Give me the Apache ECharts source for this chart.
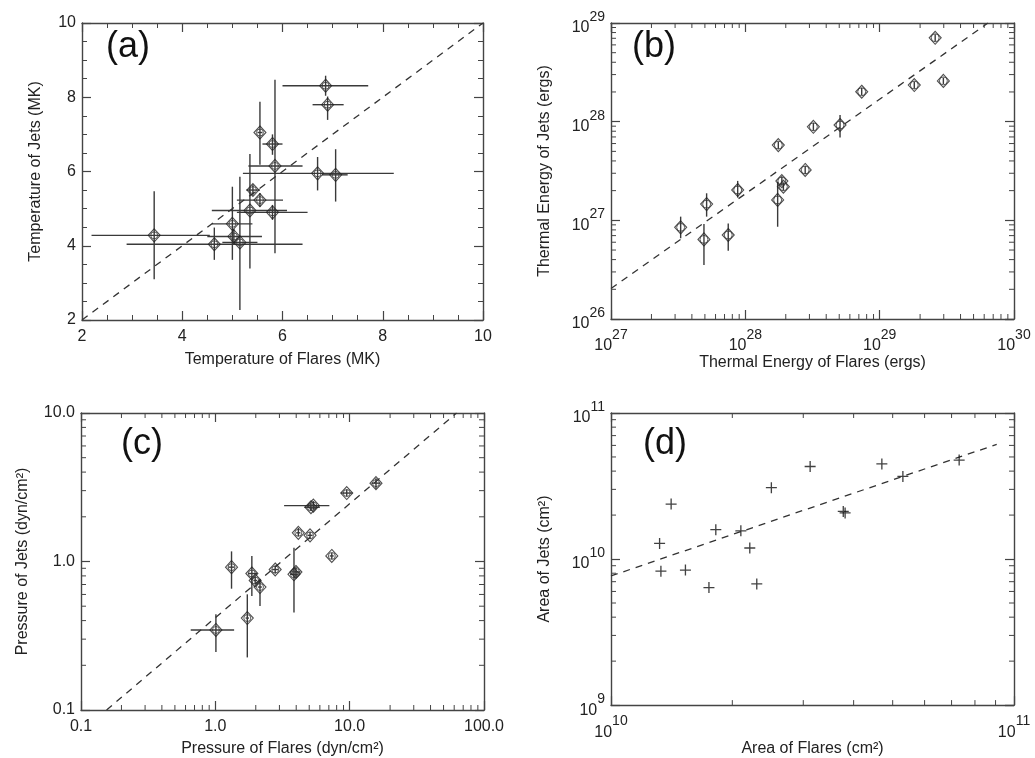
<!DOCTYPE html>
<html>
<head>
<meta charset="utf-8">
<script src="https://cdn.jsdelivr.net/npm/echarts@6/dist/echarts.min.js"></script>
<style>html,body{margin:0;padding:0;background:#fff}#c{width:1035px;height:758px}</style>
</head>
<body>
<div id="c"></div>
<script>
// ---------- Panel (a): temperatures (MK) ----------
const aFlareT   = [3.44, 4.64, 5.15, 5.03, 5.00, 5.35, 5.41, 5.55, 5.80, 5.85, 5.80, 5.55, 6.86, 6.90, 6.70, 7.06];
const aJetT     = [4.28, 4.04, 4.09, 4.25, 4.59, 4.95, 5.50, 5.23, 4.90, 6.15, 6.74, 7.05, 8.31, 7.80, 5.95, 5.91];
const aFlareLo  = [2.19, 2.89, 4.80, 4.50, 4.59, 4.59, 5.28, 5.09, 5.09, 5.32, 5.60, 5.50, 6.00, 6.60, 5.21, 6.79];
const aFlareHi  = [4.55, 6.40, 5.50, 5.59, 5.40, 6.09, 5.55, 6.01, 6.50, 6.40, 6.00, 5.60, 7.71, 7.22, 8.22, 7.30];
const aJetLo    = [3.10, 3.62, 2.27, 4.05, 3.62, 3.39, 5.35, 5.05, 4.70, 3.80, 6.45, 6.18, 8.04, 7.39, 5.49, 5.19];
const aJetHi    = [5.47, 4.49, 5.86, 4.45, 5.59, 6.47, 5.65, 5.42, 5.10, 8.47, 7.00, 7.88, 8.58, 8.02, 6.39, 6.60];
const aFitX = [2, 10];
const aFitY = [2, 10];

// ---------- Panel (b): thermal energy (ergs) ----------
const bFlareE = [3.30e27, 4.92e27, 5.15e27, 7.46e27, 8.77e27, 1.74e28, 1.76e28, 1.87e28, 1.92e28, 2.79e28, 3.21e28, 5.07e28, 7.35e28, 1.81e29, 2.59e29, 2.98e29];
const bJetE   = [8.49e26, 6.41e26, 1.46e27, 7.10e26, 2.03e27, 1.61e27, 5.79e27, 2.50e27, 2.19e27, 3.24e27, 8.87e27, 9.25e27, 2.01e28, 2.35e28, 7.08e28, 2.59e28];
const bJetLo  = [6.58e26, 3.52e26, 1.09e27, 4.92e26, 1.70e27, 8.61e26, 5.30e27, 2.25e27, 2.00e27, 2.95e27, 8.10e27, 6.93e27, 1.85e28, 2.15e28, 6.50e28, 2.40e28];
const bJetHi  = [1.09e27, 9.18e26, 1.88e27, 9.31e26, 2.51e27, 2.46e27, 6.30e27, 2.80e27, 2.40e27, 3.55e27, 9.70e27, 1.17e28, 2.20e28, 2.55e28, 7.70e28, 2.80e28];
const bFitX = [1e27, 6.4e29];
const bFitY = [2.04e26, 1e29];

// ---------- Panel (c): pressure (dyn/cm^2) ----------
const cFlareP  = [1.01, 1.32, 1.73, 1.87, 1.98, 2.15, 2.79, 3.85, 3.98, 4.15, 5.07, 5.15, 5.37, 7.36, 9.51, 15.7];
const cJetP    = [0.346, 0.916, 0.416, 0.830, 0.745, 0.673, 0.883, 0.82, 0.85, 1.56, 1.50, 2.32, 2.38, 1.09, 2.89, 3.37];
const cFlareLo = [0.656, 1.25, 1.68, 1.75, 1.92, 2.08, 2.65, 3.60, 3.80, 4.00, 4.85, 4.60, 3.25, 7.10, 8.60, 14.5];
const cFlareHi = [1.38, 1.39, 1.78, 2.05, 2.05, 2.22, 2.95, 4.10, 4.30, 4.30, 5.30, 6.00, 7.06, 7.60, 10.5, 17.0];
const cJetLo   = [0.246, 0.656, 0.226, 0.586, 0.70, 0.501, 0.83, 0.453, 0.78, 1.48, 1.42, 2.20, 2.25, 1.04, 2.75, 3.09];
const cJetHi   = [0.441, 1.17, 0.601, 1.09, 0.79, 0.757, 0.94, 1.24, 0.92, 1.68, 1.58, 2.45, 2.55, 1.14, 3.05, 3.63];
const cFitX = [0.155, 62.5];
const cFitY = [0.1, 10];

// ---------- Panel (d): area (cm^2) ----------
const dFlareA = [1.32e10, 1.33e10, 1.41e10, 1.53e10, 1.75e10, 1.82e10, 2.10e10, 2.21e10, 2.30e10, 2.50e10, 3.12e10, 3.77e10, 3.81e10, 4.70e10, 5.30e10, 7.31e10];
const dJetA   = [1.28e10, 8.26e9, 2.38e10, 8.40e9, 6.38e9, 1.59e10, 1.56e10, 1.19e10, 6.76e9, 3.08e10, 4.30e10, 2.12e10, 2.07e10, 4.48e10, 3.68e10, 4.76e10];
const dFitX = [1e10, 9.06e10];
const dFitY = [7.66e9, 6.1e10];

// ---------- Axis names / panel labels ----------
const panelLabels = ['(a)', '(b)', '(c)', '(d)'];
const xNames = ['Temperature of Flares (MK)', 'Thermal Energy of Flares (ergs)', 'Pressure of Flares (dyn/cm²)', 'Area of Flares (cm²)'];
const yNames = ['Temperature of Jets (MK)', 'Thermal Energy of Jets (ergs)', 'Pressure of Jets (dyn/cm²)', 'Area of Jets (cm²)'];

const FONT = '"Liberation Sans", Arial, Helvetica, sans-serif';
const AX = '#444';
const INK = '#222';

const grids = [
  {left: 82, top: 23, width: 401, height: 297},
  {left: 611, top: 23, width: 403, height: 296},
  {left: 81, top: 413, width: 403, height: 298},
  {left: 611, top: 413, width: 403, height: 298}
];
const ranges = [
  {x: [2, 10], y: [2, 10]},
  {x: [1e27, 1e30], y: [1e26, 1e29]},
  {x: [0.1, 100], y: [0.1, 10]},
  {x: [1e10, 1e11], y: [1e9, 1e11]}
];

const supRich = {
  b: {fontSize: 16, fontFamily: FONT, color: INK, lineHeight: 26, verticalAlign: 'bottom'},
  s: {fontSize: 14, fontFamily: FONT, color: INK, lineHeight: 26, verticalAlign: 'top'}
};
const powFmt = v => '{b|10}{s|' + Math.round(Math.log10(v)) + '}';
const decFmt = v => (+v).toFixed(1);

function axisBase(gi, type, rng, pos) {
  const o = {
    type: type, gridIndex: gi, min: rng[0], max: rng[1], position: pos,
    axisLine: {show: true, onZero: false, lineStyle: {color: AX, width: 1.4}},
    axisTick: {show: true, inside: true, length: 9, lineStyle: {color: AX, width: 1.2}},
    splitLine: {show: false},
    axisLabel: {show: false}
  };
  if (type === 'log') o.logBase = 10;
  if (type === 'value') {
    o.interval = 2;
    o.minorTick = {show: true, splitNumber: 4, length: 5, lineStyle: {color: AX, width: 1}};
  }
  return o;
}

const xAxes = [], yAxes = [];
const axisTypes = ['value', 'log', 'log', 'log'];
const labFmts = [null, powFmt, decFmt, powFmt];
const yNameGaps = [38, 58, 50, 58];
const xNameGaps = [32, 31, 31, 31];
for (let g = 0; g < 4; g++) {
  const t = axisTypes[g];
  const xb = axisBase(g, t, ranges[g].x, 'bottom');
  xb.axisLabel = {show: true, margin: 9, fontSize: 16, fontFamily: FONT, color: INK};
  if (labFmts[g]) xb.axisLabel.formatter = labFmts[g];
  if (labFmts[g] === powFmt) xb.axisLabel.rich = supRich;
  xb.name = xNames[g]; xb.nameLocation = 'middle'; xb.nameGap = xNameGaps[g];
  xb.nameTextStyle = {fontSize: 16, fontFamily: FONT, color: INK};
  const xt = axisBase(g, t, ranges[g].x, 'top');
  xAxes.push(xb, xt);
  const yl = axisBase(g, t, ranges[g].y, 'left');
  yl.axisLabel = {show: true, margin: 6, fontSize: 16, fontFamily: FONT, color: INK};
  if (labFmts[g]) yl.axisLabel.formatter = labFmts[g];
  if (labFmts[g] === powFmt) yl.axisLabel.rich = supRich;
  yl.name = yNames[g]; yl.nameLocation = 'middle'; yl.nameGap = yNameGaps[g];
  yl.nameTextStyle = {fontSize: 16, fontFamily: FONT, color: INK};
  const yr = axisBase(g, t, ranges[g].y, 'right');
  yAxes.push(yl, yr);
}

// minor log ticks (2..9 per decade)
function logMinor(lo, hi) {
  const out = [];
  for (let e = Math.round(Math.log10(lo)); e < Math.round(Math.log10(hi)); e++) {
    for (let k = 2; k <= 9; k++) out.push(k * Math.pow(10, e));
  }
  return out;
}

function minorTickSeries(g) {
  const r = ranges[g];
  const data = [];
  logMinor(r.x[0], r.x[1]).forEach(v => data.push([v, r.y[0], 0]));
  logMinor(r.y[0], r.y[1]).forEach(v => data.push([r.x[0], v, 1]));
  return {
    type: 'custom', xAxisIndex: 2 * g, yAxisIndex: 2 * g, silent: true, z: 1,
    data: data,
    renderItem: function (params, api) {
      const L = 5;
      const isY = api.value(2) === 1;
      let a, b;
      if (!isY) {
        a = api.coord([api.value(0), r.y[0]]);
        b = api.coord([api.value(0), r.y[1]]);
        return {type: 'group', children: [
          {type: 'line', shape: {x1: a[0], y1: a[1], x2: a[0], y2: a[1] - L}, style: {stroke: AX, lineWidth: 1}},
          {type: 'line', shape: {x1: b[0], y1: b[1], x2: b[0], y2: b[1] + L}, style: {stroke: AX, lineWidth: 1}}
        ]};
      } else {
        a = api.coord([r.x[0], api.value(1)]);
        b = api.coord([r.x[1], api.value(1)]);
        return {type: 'group', children: [
          {type: 'line', shape: {x1: a[0], y1: a[1], x2: a[0] + L, y2: a[1]}, style: {stroke: AX, lineWidth: 1}},
          {type: 'line', shape: {x1: b[0], y1: b[1], x2: b[0] - L, y2: b[1]}, style: {stroke: AX, lineWidth: 1}}
        ]};
      }
    }
  };
}

function errSeries(g, rows) {
  return {
    type: 'custom', xAxisIndex: 2 * g, yAxisIndex: 2 * g, z: 2, silent: true,
    data: rows,
    encode: {x: 0, y: 1},
    renderItem: function (params, api) {
      const x = api.value(0), y = api.value(1);
      const xl = api.value(2), xh = api.value(3), yl = api.value(4), yh = api.value(5);
      const ch = [];
      if (xl !== xh) {
        const p1 = api.coord([xl, y]), p2 = api.coord([xh, y]);
        ch.push({type: 'line', shape: {x1: p1[0], y1: p1[1], x2: p2[0], y2: p2[1]}, style: {stroke: '#3a3a3a', lineWidth: 1.4}});
      }
      if (yl !== yh) {
        const p1 = api.coord([x, yl]), p2 = api.coord([x, yh]);
        ch.push({type: 'line', shape: {x1: p1[0], y1: p1[1], x2: p2[0], y2: p2[1]}, style: {stroke: '#3a3a3a', lineWidth: 1.4}});
      }
      return {type: 'group', children: ch};
    }
  };
}

function diamondSeries(g, pts, size) {
  return {
    type: 'scatter', xAxisIndex: 2 * g, yAxisIndex: 2 * g, z: 3, silent: true,
    symbol: 'diamond', symbolSize: size, data: pts,
    itemStyle: {color: 'rgba(0,0,0,0)', borderColor: '#222', borderWidth: 1.1}
  };
}
function circleSeries(g, pts, size) {
  return {
    type: 'scatter', xAxisIndex: 2 * g, yAxisIndex: 2 * g, z: 3, silent: true,
    symbol: 'circle', symbolSize: size, data: pts,
    itemStyle: {color: 'rgba(0,0,0,0)', borderColor: '#333', borderWidth: 1}
  };
}
function fitSeries(g, xs, ys) {
  return {
    type: 'line', xAxisIndex: 2 * g, yAxisIndex: 2 * g, z: 2, silent: true,
    data: xs.map((v, i) => [v, ys[i]]), showSymbol: false, symbol: 'none',
    lineStyle: {type: [7, 6], color: '#333', width: 1.3}
  };
}

const aPts = aFlareT.map((v, i) => [v, aJetT[i]]);
const bPts = bFlareE.map((v, i) => [v, bJetE[i]]);
const cPts = cFlareP.map((v, i) => [v, cJetP[i]]);
const dPts = dFlareA.map((v, i) => [v, dJetA[i]]);

const series = [
  fitSeries(0, aFitX, aFitY),
  errSeries(0, aFlareT.map((v, i) => [v, aJetT[i], aFlareLo[i], aFlareHi[i], aJetLo[i], aJetHi[i]])),
  diamondSeries(0, aPts, [12, 13]),
  circleSeries(0, aPts, 7),

  minorTickSeries(1),
  fitSeries(1, bFitX, bFitY),
  errSeries(1, bFlareE.map((v, i) => [v, bJetE[i], v, v, bJetLo[i], bJetHi[i]])),
  diamondSeries(1, bPts, [12, 13]),
  circleSeries(1, bPts, 8),

  minorTickSeries(2),
  fitSeries(2, cFitX, cFitY),
  errSeries(2, cFlareP.map((v, i) => [v, cJetP[i], cFlareLo[i], cFlareHi[i], cJetLo[i], cJetHi[i]])),
  diamondSeries(2, cPts, [12, 13]),
  circleSeries(2, cPts, 7),

  minorTickSeries(3),
  fitSeries(3, dFitX, dFitY),
  {
    type: 'scatter', xAxisIndex: 6, yAxisIndex: 6, z: 3, silent: true,
    symbol: 'path://M0,4.4H10V5.6H0Z M4.4,0H5.6V10H4.4Z', symbolSize: 11, data: dPts,
    itemStyle: {color: '#111'}
  }
];

const titlePos = [[106, 29], [632, 29], [121, 426], [643, 426]];
const titles = panelLabels.map((t, i) => ({
  text: t, left: titlePos[i][0], top: titlePos[i][1], padding: 0,
  textStyle: {fontSize: 36, fontWeight: 'normal', fontFamily: FONT, color: '#111'}
}));

const chart = echarts.init(document.getElementById('c'), null, {renderer: 'canvas'});
chart.setOption({
  backgroundColor: '#fff',
  animation: false,
  title: titles,
  grid: grids,
  xAxis: xAxes,
  yAxis: yAxes,
  series: series
});
</script>
</body>
</html>
